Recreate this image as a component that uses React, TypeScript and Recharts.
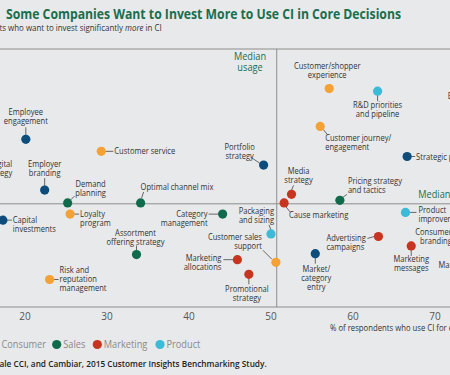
import React from "react";
import { ScatterChart, Scatter, XAxis, YAxis, ReferenceLine } from "recharts";

// ---- data (x = % who use CI for the decision, y = % who want to invest significantly more) ----
const corporatePoints = [
  { name: "Employee engagement", usage: 20.1, invest: 19.5 },
  { name: "Employer branding", usage: 22.4, invest: 13.6 },
  { name: "Capital investments", usage: 17.3, invest: 10.1 },
  { name: "Portfolio strategy", usage: 49.1, invest: 16.5 },
  { name: "Market/category entry", usage: 55.4, invest: 6.2 },
  { name: "Strategic planning", usage: 66.6, invest: 17.5 },
  { name: "Digital strategy", usage: 16.0, invest: 14.2 },
];
const consumerPoints = [
  { name: "Customer service", usage: 29.3, invest: 18.1 },
  { name: "Loyalty program", usage: 25.5, invest: 10.8 },
  { name: "Risk and reputation management", usage: 23.0, invest: 3.2 },
  { name: "Customer/shopper experience", usage: 57.1, invest: 25.4 },
  { name: "Customer journey/engagement", usage: 56.0, invest: 21.0 },
  { name: "Customer sales support", usage: 50.6, invest: 5.2 },
  { name: "Brand strategy", usage: 72.4, invest: 25.7 },
];
const salesPoints = [
  { name: "Demand planning", usage: 25.2, invest: 12.1 },
  { name: "Optimal channel mix", usage: 34.1, invest: 12.1 },
  { name: "Category management", usage: 44.1, invest: 10.8 },
  { name: "Assortment offering strategy", usage: 33.6, invest: 6.1 },
  { name: "Pricing strategy and tactics", usage: 58.4, invest: 12.4 },
];
const marketingPoints = [
  { name: "Media strategy", usage: 52.5, invest: 13.1 },
  { name: "Cause marketing", usage: 51.6, invest: 12.1 },
  { name: "Marketing allocations", usage: 45.9, invest: 5.5 },
  { name: "Promotional strategy", usage: 47.3, invest: 3.8 },
  { name: "Advertising campaigns", usage: 63.1, invest: 8.2 },
  { name: "Marketing messages", usage: 67.1, invest: 7.1 },
  { name: "Consumer branding", usage: 74.0, invest: 8.5 },
  { name: "Marketing mix", usage: 73.5, invest: 6.4 },
];
const productPoints = [
  { name: "R&D priorities and pipeline", usage: 63.0, invest: 25.1 },
  { name: "Packaging and sizing", usage: 50.0, invest: 8.5 },
  { name: "Product improvement", usage: 66.4, invest: 11.0 },
];
const xTicks = [10, 20, 30, 40, 50, 60, 70, 80];
const medianUsage = 50.7;
const medianInvest = 12;
const seriesNames = ["Corporate", "Consumer", "Sales", "Marketing", "Product"];

// ---- styles ----
const COLORS: Record<string, string> = {
  Corporate: "#0c4d7b",
  Consumer: "#f4a135",
  Sales: "#0f6b4c",
  Marketing: "#c7341f",
  Product: "#3dbad8",
};
const FONT = "'Open Sans', sans-serif";
const BG = "#e8e9ea";
const RULE = "#8e8e8e";
const GREEN = "#196e4f";
const SX = 0.84;
const LABEL_SIZE = 9;

type Lay = {
  dx: number; dy: number; anchor: "start" | "middle" | "end";
  lines: string[]; leader?: number[];
};
const LABELS: Record<string, Lay> = {
  "Employee engagement": { dx: 0, dy: -24, anchor: "middle", lines: ["Employee", "engagement"], leader: [0, -12, 0, -4] },
  "Employer branding": { dx: 0, dy: -23, anchor: "middle", lines: ["Employer", "branding"], leader: [0, -12, 0, -4] },
  "Capital investments": { dx: 10, dy: 3, anchor: "start", lines: ["Capital", "investments"], leader: [4, 0, 9, 0] },
  "Portfolio strategy": { dx: -24, dy: -15, anchor: "middle", lines: ["Portfolio", "strategy"], leader: [-13, -8, -4, -2] },
  "Market/category entry": { dx: 1, dy: 18, anchor: "middle", lines: ["Market/", "category", "entry"], leader: [0, 4, 0, 10] },
  "Strategic planning": { dx: 9, dy: 3, anchor: "start", lines: ["Strategic planning"], leader: [4, 0, 8, 0] },
  "Digital strategy": { dx: 20, dy: -18, anchor: "end", lines: ["Digital", "strategy"] },
  "Customer service": { dx: 13, dy: 3, anchor: "start", lines: ["Customer service"], leader: [4, 0, 12, 0] },
  "Loyalty program": { dx: 10, dy: 3.3, anchor: "start", lines: ["Loyalty", "program"], leader: [4, 0, 9, 0] },
  "Risk and reputation management": { dx: 10, dy: -6.5, anchor: "start", lines: ["Risk and", "reputation", "management"], leader: [4, 0, 9, 0] },
  "Customer/shopper experience": { dx: -2, dy: -19.5, anchor: "middle", lines: ["Customer/shopper", "experience"] },
  "Customer journey/engagement": { dx: 5, dy: 14.5, anchor: "start", lines: ["Customer journey/", "engagement"], leader: [3, 3, 7, 8] },
  "Customer sales support": { dx: -14, dy: -22, anchor: "end", lines: ["Customer sales", "support"], leader: [-13, -12, -4, -3] },
  "Brand strategy": { dx: -7, dy: 13, anchor: "start", lines: ["Brand strategy"] },
  "Demand planning": { dx: 23, dy: -15.5, anchor: "middle", lines: ["Demand", "planning"], leader: [3, -3, 7, -7] },
  "Optimal channel mix": { dx: 0, dy: -13, anchor: "start", lines: ["Optimal channel mix"], leader: [1, -5, 3, -11] },
  "Category management": { dx: -15, dy: 3.3, anchor: "end", lines: ["Category", "management"], leader: [-14, 0, -4, 0] },
  "Assortment offering strategy": { dx: -1, dy: -19, anchor: "middle", lines: ["Assortment", "offering strategy"], leader: [0, -9, 0, -4] },
  "Pricing strategy and tactics": { dx: 8, dy: -16.5, anchor: "start", lines: ["Pricing strategy", "and tactics"], leader: [3, -3, 7, -6] },
  "Media strategy": { dx: 7, dy: -20, anchor: "middle", lines: ["Media", "strategy"], leader: [2, -9, 0, -4] },
  "Cause marketing": { dx: 5, dy: 15, anchor: "start", lines: ["Cause marketing"], leader: [2, 4, 6, 9] },
  "Marketing allocations": { dx: -16, dy: 1, anchor: "end", lines: ["Marketing", "allocations"], leader: [-14, 0, -4, 0] },
  "Promotional strategy": { dx: -2, dy: 18, anchor: "middle", lines: ["Promotional", "strategy"], leader: [0, 4, 0, 10] },
  "Advertising campaigns": { dx: -52, dy: 5, anchor: "start", lines: ["Advertising", "campaigns"], leader: [-11, 2, -4, 0] },
  "Marketing messages": { dx: 0, dy: 16, anchor: "middle", lines: ["Marketing", "messages"], leader: [0, 4, 0, 10] },
  "Consumer branding": { dx: -16, dy: 1.5, anchor: "end", lines: ["Consumer", "branding"], leader: [-14, 0, -4, 0] },
  "Marketing mix": { dx: 0, dy: 16, anchor: "middle", lines: ["Marketing mix"], leader: [0, 4, 0, 10] },
  "R&D priorities and pipeline": { dx: 0, dy: 17, anchor: "middle", lines: ["R&D priorities", "and pipeline"], leader: [0, 4, 0, 10] },
  "Packaging and sizing": { dx: 3, dy: -20, anchor: "end", lines: ["Packaging", "and sizing"], leader: [-2, -9, 0, -4] },
  "Product improvement": { dx: 13, dy: 0.5, anchor: "start", lines: ["Product", "improvement"], leader: [4, 0, 11, 0] },
};

function Lines(p: {
  x: number; y: number; anchor?: "start" | "middle" | "end"; lines: React.ReactNode[];
  size?: number; sx?: number; fill?: string; lh?: number; weight?: number;
}) {
  const { x, y, anchor = "start", lines, size = LABEL_SIZE, sx = SX, fill = "#333", lh = 9, weight = 400 } = p;
  return (
    <text
      transform={`translate(${x},${y}) scale(${sx},1)`}
      textAnchor={anchor}
      fontSize={size}
      fill={fill}
      fontFamily={FONT}
      fontWeight={weight}
    >
      {lines.map((l, i) => (
        <tspan key={i} x={0} y={i * lh}>
          {l}
        </tspan>
      ))}
    </text>
  );
}

const makeShape = (color: string) => (props: any) => {
  const { cx, cy, payload } = props;
  const lay = LABELS[payload.name];
  return (
    <g>
      {lay && lay.leader && (
        <line
          x1={cx + lay.leader[0]} y1={cy + lay.leader[1]}
          x2={cx + lay.leader[2]} y2={cy + lay.leader[3]}
          stroke="#444" strokeWidth={0.8}
        />
      )}
      <circle cx={cx} cy={cy} r={4.6} fill={color} />
      {lay && <Lines x={cx + lay.dx} y={cy + lay.dy} anchor={lay.anchor} lines={lay.lines} />}
    </g>
  );
};

const seriesData: Record<string, any[]> = {
  Corporate: corporatePoints,
  Consumer: consumerPoints,
  Sales: salesPoints,
  Marketing: marketingPoints,
  Product: productPoints,
};

const legendPos: Record<string, number> = { Corporate: -60, Consumer: -5, Sales: 56.7, Marketing: 97.3, Product: 160 };

export default function App() {
  return (
    <div style={{ position: "fixed", left: 0, top: 0, width: 450, height: 375, overflow: "hidden", background: BG }}>
      <div style={{ position: "absolute", left: -100, top: 0 }}>
        <ScatterChart width={700} height={375} margin={{ top: 49, right: 83, bottom: 38, left: 43 }}>
          <XAxis
            type="number"
            dataKey="usage"
            domain={[10, 80]}
            ticks={xTicks}
            height={30}
            tickLine={false}
            tickSize={4}
            tickMargin={2}
            axisLine={{ stroke: RULE, strokeWidth: 1.2 }}
            tick={{ fontSize: 10, fill: "#555", fontFamily: FONT }}
            allowDataOverflow
          />
          <YAxis type="number" dataKey="invest" domain={[0, 30]} hide allowDataOverflow />
          <ReferenceLine y={30} stroke={RULE} strokeWidth={1.2} />
          <ReferenceLine y={medianInvest} stroke={RULE} strokeWidth={1} />
          <ReferenceLine x={medianUsage} stroke={RULE} strokeWidth={1} />
          {seriesNames.map((s) => (
            <Scatter
              key={s}
              name={s}
              data={seriesData[s]}
              fill={COLORS[s]}
              shape={makeShape(COLORS[s])}
              isAnimationActive={false}
            />
          ))}
        </ScatterChart>
      </div>
      <svg width={450} height={375} style={{ position: "absolute", left: 0, top: 0 }}>
        <text x={6} y={19} fontSize={14} fontWeight={700} fill={GREEN} fontFamily={FONT} textLength={395} lengthAdjust="spacingAndGlyphs">
          Some Companies Want to Invest More to Use CI in Core Decisions
        </text>
        <text transform={`translate(161.7,31.3) scale(0.88,1)`} textAnchor="end" fontSize={9} fill="#333" fontFamily={FONT}>
          % of respondents who want to invest significantly <tspan fontStyle="italic">more</tspan> in CI
        </text>
        <Lines x={250} y={60} anchor="middle" lines={["Median", "usage"]} size={10} sx={0.92} fill={GREEN} lh={11} />
        <Lines x={418.3} y={198} lines={["Median investment"]} size={10} sx={0.92} fill={GREEN} />
        <Lines x={330} y={331} lines={["% of respondents who use CI for each decision"]} size={9} sx={0.86} fill="#333" />
        {seriesNames.map((s) => (
          <g key={s}>
            <circle cx={legendPos[s]} cy={344.5} r={4.6} fill={COLORS[s]} />
            <Lines x={legendPos[s] + 6.5} y={348.2} lines={[s]} size={10.5} sx={0.88} fill="#8a8a8a" />
          </g>
        ))}
        <text transform={`translate(266.7,367.3) scale(0.92,1)`} textAnchor="end" fontSize={9} fontWeight={600} fill="#222" fontFamily={FONT}>
          Source: BCG, Yale CCI, and Cambiar,  2015 Customer Insights Benchmarking Study.
        </text>
      </svg>
    </div>
  );
}
